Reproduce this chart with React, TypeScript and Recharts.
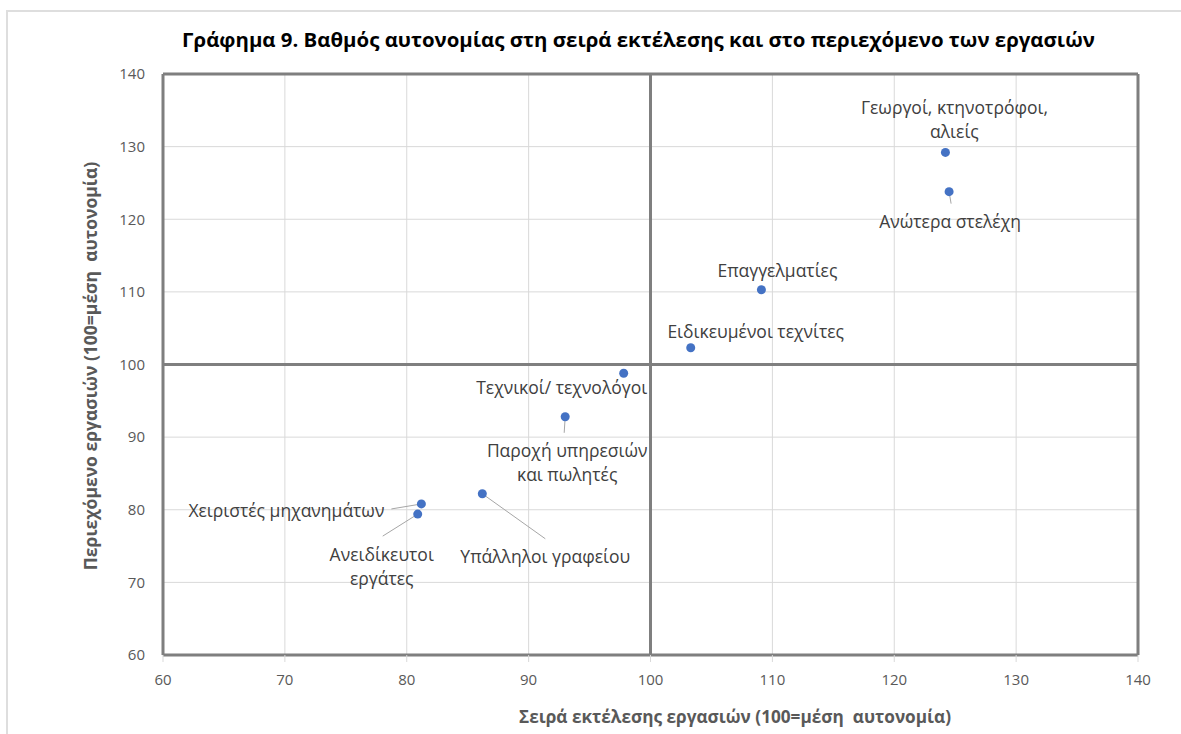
import { ScatterChart, Scatter, XAxis, YAxis, CartesianGrid, ReferenceLine } from 'recharts';

// occupations, order of task execution (x) and task content (y), 100 = average autonomy
const occupations = [
  'Γεωργοί, κτηνοτρόφοι, αλιείς',
  'Ανώτερα στελέχη',
  'Επαγγελματίες',
  'Ειδικευμένοι τεχνίτες',
  'Τεχνικοί/ τεχνολόγοι',
  'Παροχή υπηρεσιών και πωλητές',
  'Υπάλληλοι γραφείου',
  'Χειριστές μηχανημάτων',
  'Ανειδίκευτοι εργάτες',
];
const executionOrder = [124.2, 124.5, 109.1, 103.3, 97.8, 93.0, 86.2, 81.2, 80.9];
const taskContent = [129.2, 123.8, 110.3, 102.3, 98.8, 92.8, 82.2, 80.8, 79.4];

// how the data labels are broken into lines
const labelLines = [
  ['Γεωργοί, κτηνοτρόφοι,', 'αλιείς'],
  ['Ανώτερα στελέχη'],
  ['Επαγγελματίες'],
  ['Ειδικευμένοι τεχνίτες'],
  ['Τεχνικοί/ τεχνολόγοι'],
  ['Παροχή υπηρεσιών', 'και πωλητές'],
  ['Υπάλληλοι γραφείου'],
  ['Χειριστές μηχανημάτων'],
  ['Ανειδίκευτοι', 'εργάτες'],
];

const axisTicks = [60, 70, 80, 90, 100, 110, 120, 130, 140];

// label offsets (px, relative to the point) and leader lines, like the Excel original
const labelPlacement = [
  { dx: 9, dy: -45, anchor: 'middle' },
  { dx: 1, dy: 29, anchor: 'middle', leader: [2, 12] },
  { dx: 16, dy: -20, anchor: 'middle' },
  { dx: 65, dy: -17, anchor: 'middle' },
  { dx: -62, dy: 14, anchor: 'middle' },
  { dx: 2, dy: 33, anchor: 'middle', leader: [-1, 16] },
  { dx: 63, dy: 62, anchor: 'middle', leader: [63, 45] },
  { dx: -37, dy: 6, anchor: 'end', leader: [-30, 5] },
  { dx: -36, dy: 40, anchor: 'middle', leader: [-35, 22] },
];

const data = occupations.map((name, i) => ({
  name,
  x: executionOrder[i],
  y: taskContent[i],
  idx: i,
}));

const FONT = '"Open Sans", sans-serif';
const BORDER = '#7f7f7f';

function PointWithLabel(props: any) {
  const { cx, cy, payload } = props;
  const p = labelPlacement[payload.idx];
  const lines = labelLines[payload.idx];
  return (
    <g>
      {p.leader && (
        <line x1={cx} y1={cy} x2={cx + p.leader[0]} y2={cy + p.leader[1]} stroke="#a6a6a6" strokeWidth={1} />
      )}
      <circle cx={cx} cy={cy} r={4.5} fill="#4472C4" />
      {lines.map((t, k) => (
        <text
          key={k}
          x={cx + p.dx}
          y={cy + p.dy + k * 24}
          textAnchor={p.anchor}
          dominantBaseline="central"
          fontFamily={FONT}
          fontSize={17.5}
          fill="#404040"
        >
          {t}
        </text>
      ))}
    </g>
  );
}

export default function App() {
  return (
    <div style={{ position: 'fixed', left: 0, top: 0, width: 1181, height: 734, overflow: 'hidden', background: '#fff' }}>
      {/* outer frame of the figure, cut off at the right and bottom like the source image */}
      <div
        style={{
          position: 'absolute',
          left: 6,
          top: 10,
          width: 1175,
          height: 724,
          borderLeft: '2px solid #dedede',
          borderTop: '2px solid #dedede',
        }}
      />
      <div
        style={{
          position: 'absolute',
          left: 0,
          width: 1181,
          top: 26,
          textAlign: 'center',
          fontFamily: FONT,
          fontWeight: 700,
          fontSize: 20.4,
          color: '#000',
          lineHeight: '26px',
        }}
      >
        <span style={{ position: 'relative', left: 48 }}>
          Γράφημα 9. Βαθμός αυτονομίας στη σειρά εκτέλεσης και στο περιεχόμενο των εργασιών
        </span>
      </div>
      <div style={{ position: 'absolute', left: 0, top: 0 }}>
        <ScatterChart width={1181} height={734} margin={{ top: 74, right: 43, bottom: 0, left: 0 }}>
          <CartesianGrid stroke="#d9d9d9" strokeWidth={1} />
          <XAxis
            type="number"
            dataKey="x"
            domain={[60, 140]}
            ticks={axisTicks}
            height={79}
            axisLine={false}
            tickLine={{ stroke: '#d9d9d9' }}
            tickSize={7}
            tickMargin={12}
            tick={{ fill: '#595959', fontSize: 15, fontFamily: FONT }}
          />
          <YAxis
            type="number"
            dataKey="y"
            domain={[60, 140]}
            ticks={axisTicks}
            width={163}
            axisLine={false}
            tickLine={false}
            tickSize={0}
            tickMargin={18}
            tick={{ fill: '#595959', fontSize: 15, fontFamily: FONT }}
          />
          <ReferenceLine x={60} stroke={BORDER} strokeWidth={3} />
          <ReferenceLine x={140} stroke={BORDER} strokeWidth={3} />
          <ReferenceLine y={60} stroke={BORDER} strokeWidth={3} />
          <ReferenceLine y={140} stroke={BORDER} strokeWidth={3} />
          <ReferenceLine x={100} stroke={BORDER} strokeWidth={3} />
          <ReferenceLine y={100} stroke={BORDER} strokeWidth={3} />
          <Scatter data={data} shape={PointWithLabel} isAnimationActive={false} />
        </ScatterChart>
      </div>
      <div
        style={{
          position: 'absolute',
          left: 335,
          width: 800,
          top: 705,
          textAlign: 'center',
          fontFamily: FONT,
          fontWeight: 700,
          fontSize: 17.2,
          color: '#595959',
          lineHeight: '24px',
          whiteSpace: 'pre',
        }}
      >
        {'Σειρά εκτέλεσης εργασιών (100=μέση  αυτονομία)'}
      </div>
      <div
        style={{
          position: 'absolute',
          left: 90,
          top: 366,
          width: 600,
          marginLeft: -300,
          marginTop: -12,
          transform: 'rotate(-90deg)',
          textAlign: 'center',
          fontFamily: FONT,
          fontWeight: 700,
          fontSize: 17.5,
          color: '#595959',
          lineHeight: '24px',
          whiteSpace: 'pre',
        }}
      >
        {'Περιεχόμενο εργασιών (100=μέση  αυτονομία)'}
      </div>
    </div>
  );
}
